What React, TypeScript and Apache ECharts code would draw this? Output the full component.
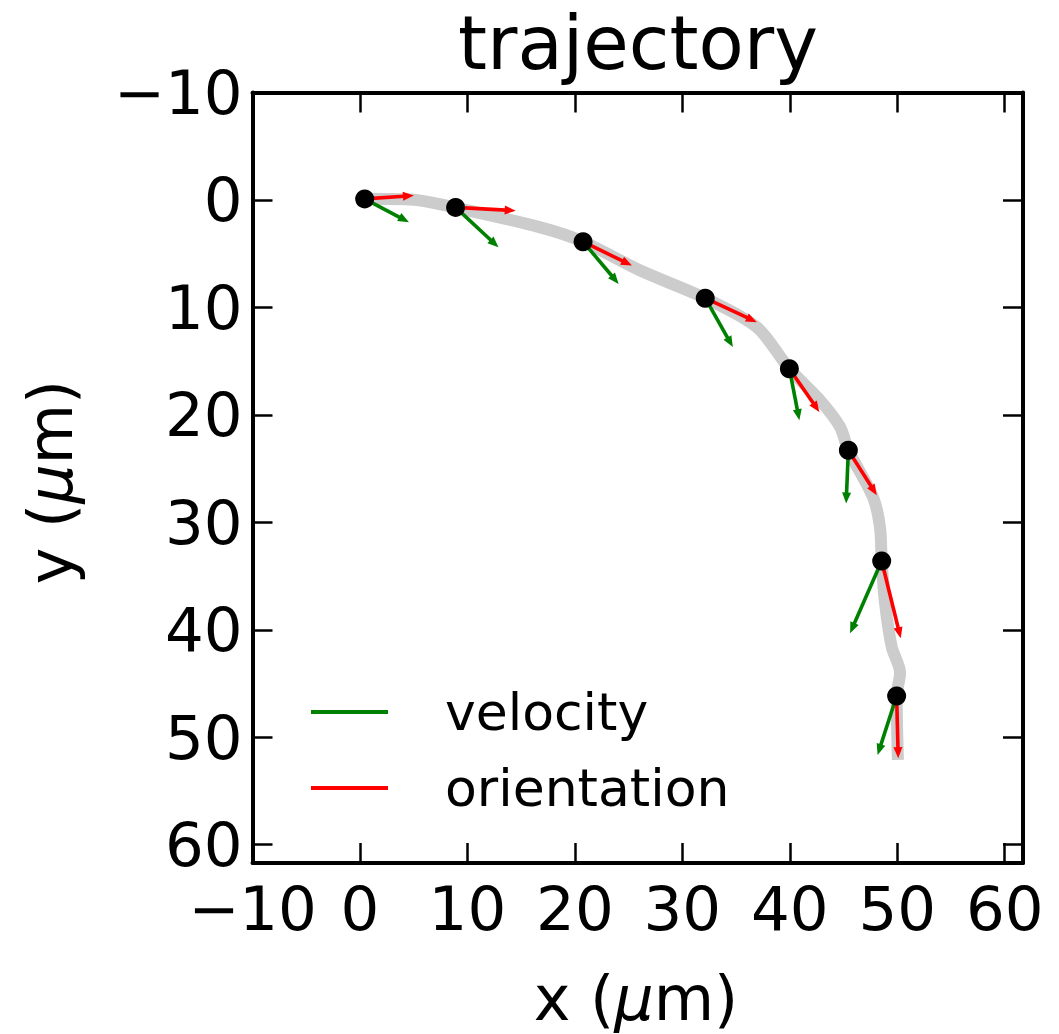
import React, { useEffect, useRef } from "react";
import * as echarts from "echarts";

// gray trajectory path (data units, µm)
const trajX = [0.44, 4.99, 8.89, 16.79, 20.76, 26.09, 32.13, 36.93, 39.96, 42.82, 44.68, 45.45, 47.74, 48.39, 48.55, 48.86, 49.48, 50.26, 49.94, 50.06];
const trajY = [-0.12, -0.03, 0.72, 2.55, 3.88, 6.57, 9.14, 11.84, 15.71, 18.65, 21.13, 23.3, 27.64, 30.43, 33.61, 37.52, 41.58, 44.02, 46.16, 52.1];

// sample points (black dots)
const dotX = [0.44, 8.9, 20.76, 32.13, 39.96, 45.45, 48.55, 49.94];
const dotY = [-0.1, 0.69, 3.88, 9.14, 15.7, 23.3, 33.6, 46.16];

// velocity arrows (green)
const velDX = [4.12, 3.99, 3.31, 2.57, 0.93, -0.21, -2.94, -1.77];
const velDY = [2.17, 3.72, 3.93, 4.55, 4.8, 4.95, 6.72, 5.48];

// orientation arrows (red)
const oriDX = [4.58, 5.59, 4.55, 4.8, 2.79, 2.64, 1.77, 0.15];
const oriDY = [-0.31, 0.31, 2.23, 2.23, 4.03, 4.18, 7.18, 5.79];

const axisTicks = [-10, 0, 10, 20, 30, 40, 50, 60];
const AX_MIN = -10;
const AX_MAX = 61.7;

const FONT = "DejaVu Sans";

const fmt = (v: number) => {
  if (!axisTicks.includes(Math.round(v * 1000) / 1000)) return "";
  return v < 0 ? "\u2212" + Math.abs(v) : String(v);
};

function arrowRenderer(color: string) {
  return (params: any, api: any) => {
    const x = api.value(0);
    const y = api.value(1);
    const dx = api.value(2);
    const dy = api.value(3);
    const a = api.coord([x, y]);
    const b = api.coord([x + dx, y + dy]);
    const len = Math.hypot(b[0] - a[0], b[1] - a[1]) || 1;
    const ux = (b[0] - a[0]) / len;
    const uy = (b[1] - a[1]) / len;
    const headLen = 11;
    const headW = 4.5;
    const base = [b[0] - ux * headLen, b[1] - uy * headLen];
    return {
      type: "group",
      children: [
        {
          type: "line",
          shape: { x1: a[0], y1: a[1], x2: base[0] + ux * 1, y2: base[1] + uy * 1 },
          style: { stroke: color, lineWidth: 3.6 },
        },
        {
          type: "polygon",
          shape: {
            points: [
              [b[0], b[1]],
              [base[0] - uy * headW, base[1] + ux * headW],
              [base[0] + uy * headW, base[1] - ux * headW],
            ],
          },
          style: { fill: color },
        },
      ],
    };
  };
}

export default function App() {
  const ref = useRef<HTMLDivElement>(null);

  useEffect(() => {
    if (!ref.current) return;
    const chart = echarts.init(ref.current, null, { renderer: "svg" });

    const gridL = 252.5;
    const gridT = 92.5;
    const gridS = 770.5;

    const baseAxis = {
      type: "value",
      min: AX_MIN,
      max: AX_MAX,
      interval: 10,
      splitLine: { show: false },
      axisLine: { show: true, onZero: false, lineStyle: { color: "#000", width: 4 } },
      axisTick: { show: true, inside: true, length: 20, lineStyle: { color: "#000", width: 2.5 } },
    };

    const option: any = {
      animation: false,
      backgroundColor: "#ffffff",
      grid: { left: gridL, top: gridT, width: gridS, height: gridS, containLabel: false },
      xAxis: [
        {
          ...baseAxis,
          position: "bottom",
          axisLabel: {
            show: true,
            formatter: fmt,
            margin: 15,
            fontSize: 61,
            fontFamily: FONT,
            color: "#000",
            showMaxLabel: false,
          },
        },
        {
          ...baseAxis,
          position: "top",
          axisLabel: { show: false },
        },
      ],
      yAxis: [
        {
          ...baseAxis,
          position: "left",
          inverse: true,
          axisLabel: {
            show: true,
            formatter: fmt,
            margin: 10,
            fontSize: 61,
            fontFamily: FONT,
            color: "#000",
            showMaxLabel: false,
            padding: [0, 0, 10, 0],
          },
        },
        {
          ...baseAxis,
          position: "right",
          inverse: true,
          axisLabel: { show: false },
        },
      ],
      series: [
        {
          type: "line",
          name: "trajectory",
          xAxisIndex: 0,
          yAxisIndex: 0,
          data: trajX.map((x, i) => [x, trajY[i]]),
          showSymbol: false,
          smooth: 0.3,
          lineStyle: { color: "#cccccc", width: 12 },
          z: 1,
        },
        {
          type: "custom",
          name: "velocity",
          xAxisIndex: 0,
          yAxisIndex: 0,
          data: dotX.map((x, i) => [x, dotY[i], velDX[i], velDY[i]]),
          renderItem: arrowRenderer("#008000"),
          z: 2,
        },
        {
          type: "custom",
          name: "orientation",
          xAxisIndex: 0,
          yAxisIndex: 0,
          data: dotX.map((x, i) => [x, dotY[i], oriDX[i], oriDY[i]]),
          renderItem: arrowRenderer("#ff0000"),
          z: 3,
        },
        {
          type: "scatter",
          name: "points",
          xAxisIndex: 0,
          yAxisIndex: 0,
          data: dotX.map((x, i) => [x, dotY[i]]),
          symbol: "circle",
          symbolSize: 19,
          itemStyle: { color: "#000000", opacity: 1 },
          z: 4,
        },
      ],
      graphic: [
        {
          type: "text",
          x: 638,
          y: 43,
          style: {
            text: "trajectory",
            fontSize: 74,
            fontFamily: FONT,
            fill: "#000",
            align: "center",
            verticalAlign: "middle",
          },
        },
        {
          type: "text",
          x: 636,
          y: 998,
          style: {
            text: "x ({i|\u03bc}m)",
            fontSize: 62,
            fontFamily: FONT,
            fill: "#000",
            align: "center",
            verticalAlign: "middle",
            rich: {
              i: { fontSize: 62, fontFamily: FONT, fontStyle: "italic", fill: "#000" },
            },
          },
        },
        {
          type: "text",
          x: 50,
          y: 482,
          rotation: Math.PI / 2,
          style: {
            text: "y ({i|\u03bc}m)",
            fontSize: 62,
            fontFamily: FONT,
            fill: "#000",
            align: "center",
            verticalAlign: "middle",
            rich: {
              i: { fontSize: 62, fontFamily: FONT, fontStyle: "italic", fill: "#000" },
            },
          },
        },
        {
          type: "line",
          shape: { x1: 311, y1: 712, x2: 388, y2: 712 },
          style: { stroke: "#008000", lineWidth: 4 },
        },
        {
          type: "text",
          x: 445,
          y: 712,
          style: {
            text: "velocity",
            fontSize: 52,
            fontFamily: FONT,
            fill: "#000",
            align: "left",
            verticalAlign: "middle",
          },
        },
        {
          type: "line",
          shape: { x1: 311, y1: 788, x2: 388, y2: 788 },
          style: { stroke: "#ff0000", lineWidth: 4 },
        },
        {
          type: "text",
          x: 445,
          y: 788,
          style: {
            text: "orientation",
            fontSize: 52,
            fontFamily: FONT,
            fill: "#000",
            align: "left",
            verticalAlign: "middle",
          },
        },
      ],
    };

    chart.setOption(option);
    return () => chart.dispose();
  }, []);

  return (
    <div
      ref={ref}
      style={{ position: "fixed", left: 0, top: 0, width: 1059, height: 1034, background: "#fff" }}
    />
  );
}
